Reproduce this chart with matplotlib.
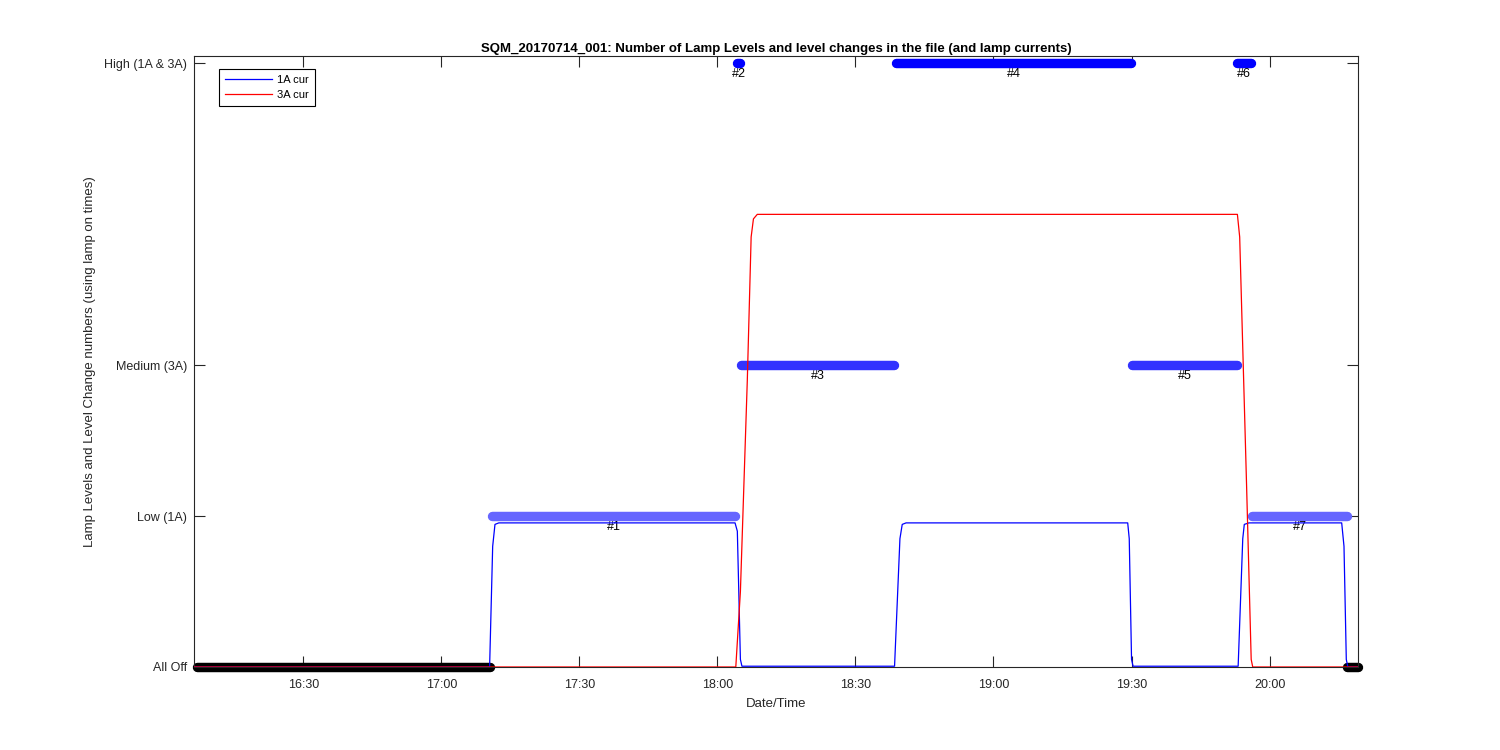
import matplotlib
matplotlib.use('Agg')
import matplotlib.pyplot as plt
import matplotlib.dates as mdates
import pandas as pd

plt.rcParams['font.family'] = ['Liberation Sans', 'DejaVu Sans']

day = '2017-07-14 '

# lamp currents (1A and 3A)
cur1_t = ['16:06:15', '17:10:30', '17:11:10', '17:11:40', '17:12:30', '18:03:50', '18:04:20',
          '18:05:00', '18:05:20', '18:38:30', '18:39:40', '18:40:10', '18:41:00', '19:29:10',
          '19:29:30', '19:30:00', '19:30:20', '19:53:10', '19:54:10', '19:54:30', '19:55:30',
          '20:15:40', '20:16:10', '20:16:40', '20:17:00', '20:19:12']
cur1_v = [0.0, 0.0, 0.80, 0.945, 0.955, 0.955, 0.90,
          0.05, 0.005, 0.005, 0.85, 0.945, 0.955, 0.955,
          0.85, 0.05, 0.005, 0.005, 0.85, 0.945, 0.955,
          0.955, 0.80, 0.05, 0.0, 0.0]

cur3_t = ['16:06:15', '18:04:00', '18:05:00', '18:06:30', '18:07:20', '18:07:50', '18:08:40',
          '19:53:00', '19:53:30', '19:55:00', '19:56:00', '19:56:20', '20:19:12']
cur3_v = [0.0, 0.0, 0.5, 1.9, 2.85, 2.97, 3.0,
          3.0, 2.85, 1.2, 0.05, 0.0, 0.0]

# lamp level segments
seg_start = ['16:07:00', '17:11:05', '18:04:20', '18:05:05', '18:38:50', '19:30:10', '19:52:55', '19:56:10', '20:16:50']
seg_end = ['17:10:30', '18:03:50', '18:05:00', '18:38:25', '19:29:55', '19:52:50', '19:56:00', '20:16:50', '20:19:15']
seg_level = [0, 1, 4, 2, 4, 2, 4, 1, 0]
seg_label = ['', '#1', '#2', '#3', '#4', '#5', '#6', '#7', '']

level_ticks = [0, 1, 2, 4]
level_names = ['All Off', 'Low (1A)', 'Medium (3A)', 'High (1A & 3A)']
level_color = {0: 'black', 1: (0.4, 0.4, 1.0), 2: (0.2, 0.2, 1.0), 4: (0.0, 0.0, 1.0)}

def tt(lst):
    return pd.to_datetime([day + s for s in lst])

fig = plt.figure(figsize=(15, 7.5), dpi=100)
ax = fig.add_axes([0.1293, 0.1107, 0.776, 0.8147])

for s, e, lv, lb in zip(tt(seg_start), tt(seg_end), seg_level, seg_label):
    ax.plot([s, e], [lv, lv], color=level_color[lv], lw=6.8, solid_capstyle='round',
            clip_on=False, zorder=2)
    if lb:
        mid = s + (e - s) / 2
        ax.text(mid, lv - 0.03, lb, ha='center', va='top', fontsize=9, zorder=3)

ax.plot(tt(cur1_t), cur1_v, color='blue', lw=0.9, label='1A cur', zorder=4)
ax.plot(tt(cur3_t), cur3_v, color='red', lw=0.9, label='3A cur', zorder=4)

ax.set_xlim(pd.Timestamp(day + '16:06:15'), pd.Timestamp(day + '20:19:12'))
ax.set_ylim(0, 4.05)
ax.set_yticks(level_ticks)
ax.set_yticklabels(level_names)
ax.xaxis.set_major_locator(mdates.MinuteLocator(byminute=[0, 30]))
ax.xaxis.set_major_formatter(mdates.DateFormatter('%H:%M'))
ax.tick_params(direction='in', length=8, width=0.8, top=True, right=True, labelsize=9,
               colors='#262626')
ax.tick_params(axis='x', pad=8.5)
ax.tick_params(axis='y', pad=5)
for sp in ax.spines.values():
    sp.set_linewidth(0.8)
    sp.set_color('#262626')

ax.set_xlabel('Date/Time', fontsize=9.5, color='#262626', labelpad=5)
ax.set_ylabel('Lamp Levels and Level Change numbers (using lamp on times)', fontsize=9.5,
              color='#262626', labelpad=6)
ax.set_title('SQM_20170714_001: Number of Lamp Levels and level changes in the file (and lamp currents)',
             fontsize=9.5, fontweight='bold', pad=2.5)

leg = ax.legend(loc='upper left', bbox_to_anchor=(0.0215, 0.9787), borderaxespad=0,
                fontsize=8, fancybox=False, edgecolor='black', handlelength=4.2,
                handletextpad=0.45, borderpad=0.55, labelspacing=0.4, framealpha=1)
leg.get_frame().set_linewidth(0.8)

plt.savefig('out.png', dpi=100)
plt.close()
